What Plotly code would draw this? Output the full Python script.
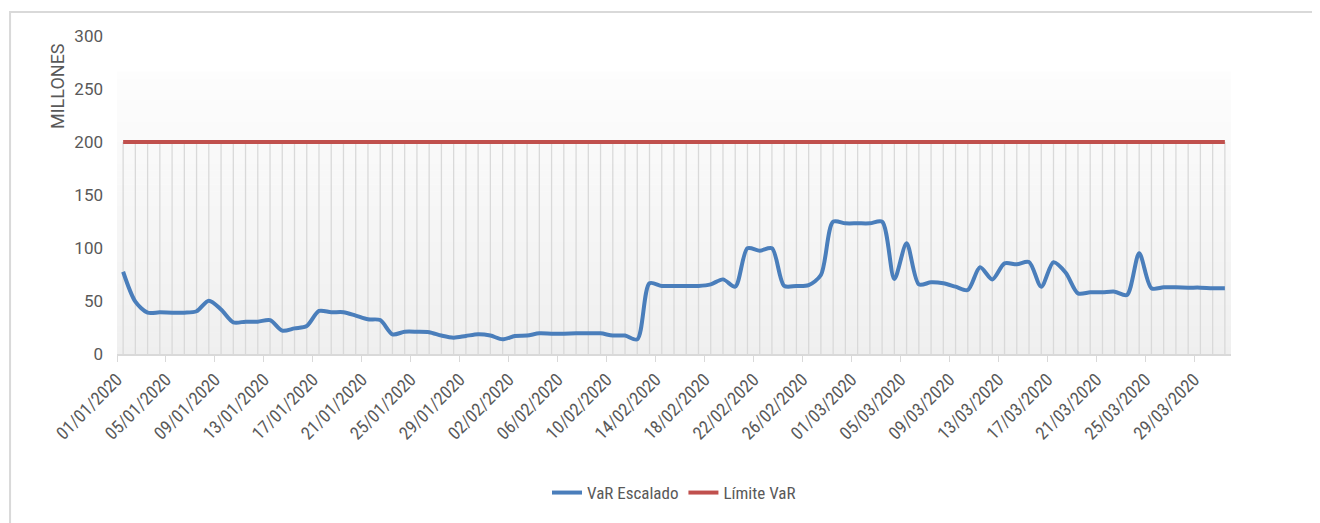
import datetime as dt
import plotly.graph_objects as go

# ---- data ----
start = dt.date(2020, 1, 1)
dates = [(start + dt.timedelta(days=i)).strftime("%d/%m/%Y") for i in range(91)]

var_escalado = [
    77.6, 49.4, 39.0, 39.3, 39.0, 39.0, 40.3, 50.3, 42.0, 29.9,
    30.5, 30.5, 32.0, 22.0, 24.2, 26.4, 40.6, 39.4, 39.4, 36.2,
    32.7, 32.0, 18.6, 21.0, 21.0, 20.6, 17.4, 15.4, 17.0, 18.6,
    17.4, 13.8, 17.0, 17.4, 19.5, 19.2, 19.2, 19.5, 19.5, 19.5,
    17.4, 17.4, 13.8, 66.7, 64.2, 64.2, 64.2, 64.2, 65.7, 70.4,
    63.5, 99.7, 97.5, 99.7, 64.2, 64.2, 65.0, 74.5, 124.8, 123.3,
    123.3, 123.3, 124.8, 70.8, 104.4, 65.7, 67.6, 66.7, 63.5, 60.4,
    81.8, 70.4, 85.5, 84.6, 86.8, 63.5, 86.5, 76.7, 57.2, 58.2,
    58.2, 58.8, 55.7, 95.0, 62.0, 62.9, 62.9, 62.6, 62.6, 62.0,
    62.0,
]
limite_var = [200] * 91

y_ticks = [0, 50, 100, 150, 200, 250, 300]
label_step = 4

# ---- figure ----
idx = list(range(len(dates)))
FONT = "Liberation Sans Narrow, Arial Narrow, Roboto Condensed, Open Sans, sans-serif"
FONT_W = "Roboto, Open Sans, sans-serif"
TXT = "#595959"
GRID = "#d9d9d9"

# plot area in figure pixels (page has 8px body margin)
L, R, T, B = 109, 1223.4, 28, 346
W, H = 1320, 523
PW, PH = R - L, B - T

fig = go.Figure()

# drop lines from the limit series down to the axis
dx, dy = [], []
for i, v in zip(idx, limite_var):
    dx += [i, i, None]
    dy += [0, v, None]
fig.add_trace(go.Scatter(x=dx, y=dy, mode="lines", line=dict(color=GRID, width=1.3),
                         showlegend=False, hoverinfo="skip"))

fig.add_trace(go.Scatter(x=idx, y=var_escalado, mode="lines", name="VaR Escalado",
                         line=dict(color="#4a7ebb", width=4, shape="spline", smoothing=0.8),
                         customdata=dates, hovertemplate="%{customdata}: %{y}<extra></extra>"))
fig.add_trace(go.Scatter(x=idx, y=limite_var, mode="lines", name="Límite VaR",
                         line=dict(color="#c0504d", width=4)))

# gradient plot-area background (bands)
shapes = []
n = 40
top_val = 266.0
c_bot = (239, 239, 239)
c_top = (253, 253, 253)
for k in range(n):
    t = (k + 0.5) / n
    c = tuple(round(c_bot[j] + (c_top[j] - c_bot[j]) * t) for j in range(3))
    shapes.append(dict(type="rect", xref="x", yref="y", layer="below", line=dict(width=0),
                       x0=-0.5, x1=len(dates) - 0.5,
                       y0=top_val * k / n, y1=top_val * (k + 1) / n + 0.5,
                       fillcolor="rgb(%d,%d,%d)" % c))
# outer chart border (left and top)
bx = (2 - L) / PW
by = (B - 4) / PH
shapes.append(dict(type="path", xref="paper", yref="paper", layer="below",
                   path="M %.4f -0.7 L %.4f %.4f L 1.1 %.4f" % (bx, bx, by, by),
                   line=dict(color="#d9d9d9", width=2)))
fig.update_layout(shapes=shapes)

tickvals = [i - 0.5 for i in range(0, len(dates), label_step)]
ticktext = [dates[i] for i in range(0, len(dates), label_step)]

fig.update_xaxes(range=[-0.5, len(dates) - 0.5], tickmode="array", tickvals=tickvals,
                 ticktext=ticktext, tickangle=-45, showgrid=False, zeroline=False,
                 showline=True, linecolor=GRID, linewidth=2, ticks="outside",
                 ticklen=6, tickcolor=GRID, tickwidth=1,
                 tickfont=dict(family=FONT, size=18, color=TXT))
fig.update_yaxes(range=[0, 300], tickmode="array", tickvals=y_ticks, showgrid=False,
                 zeroline=False, showline=False, ticklabelstandoff=13,
                 tickfont=dict(family=FONT_W, size=17, color=TXT))

fig.add_annotation(text="MILLONES", xref="paper", yref="paper",
                   x=(50 - L) / PW, y=(B - 78) / PH, textangle=-90,
                   showarrow=False, xanchor="center", yanchor="middle",
                   font=dict(family=FONT_W, size=18, color=TXT))

fig.update_layout(
    width=W, height=H,
    margin=dict(l=L, r=W - R, t=T, b=H - B),
    paper_bgcolor="white", plot_bgcolor="white",
    showlegend=True,
    legend=dict(orientation="h", x=0.5, xanchor="center", y=(B - 485) / PH,
                yanchor="middle", font=dict(family=FONT, size=17, color=TXT),
                itemwidth=30, tracegroupgap=0),
    font=dict(family=FONT),
)

fig.write_html("out.html")
